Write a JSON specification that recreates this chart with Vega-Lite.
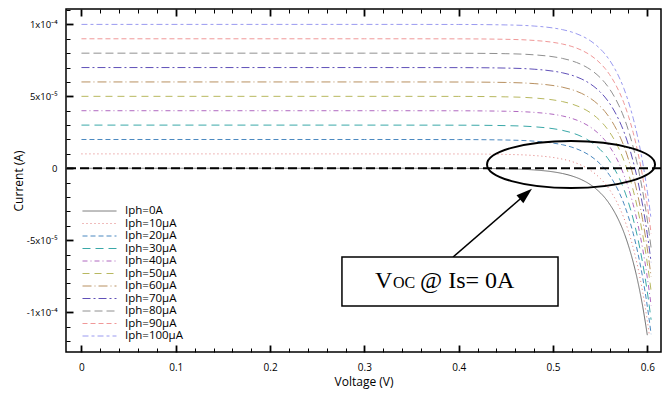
{
  "$schema": "https://vega.github.io/schema/vega-lite/v6.json",
  "autosize": {"type": "none"},
  "padding": {"left": 66, "top": 9, "right": 9, "bottom": 46},
  "width": 595,
  "height": 343,
  "background": "white",
  "config": {
    "view": {"stroke": "#000", "strokeWidth": 1.5},
    "axis": {"grid": false, "domain": false, "ticks": true, "zindex": 1, "labelFont": "Open Sans", "titleFont": "Open Sans", "labelColor": "#000", "titleColor": "#000", "tickColor": "#000", "titleFontWeight": "normal"}
  },
  "datasets": {
    "iv": [
      {"k":0,"v":0,"i":0},{"k":0,"v":0.3,"i":0},{"k":0,"v":0.4,"i":-0.05},{"k":0,"v":0.45,"i":-0.36},{"k":0,"v":0.48,"i":-1.15},{"k":0,"v":0.5,"i":-2.48},{"k":0,"v":0.51,"i":-3.64},{"k":0,"v":0.52,"i":-5.35},{"k":0,"v":0.53,"i":-7.86},{"k":0,"v":0.54,"i":-11.55},{"k":0,"v":0.55,"i":-16.96},{"k":0,"v":0.555,"i":-20.5},{"k":0,"v":0.56,"i":-24.9},{"k":0,"v":0.565,"i":-30.2},{"k":0,"v":0.57,"i":-36.6},{"k":0,"v":0.575,"i":-44.3},{"k":0,"v":0.58,"i":-53.8},{"k":0,"v":0.585,"i":-65.2},{"k":0,"v":0.59,"i":-79},{"k":0,"v":0.595,"i":-95.7},{"k":0,"v":0.6,"i":-116},
      {"k":10,"v":0,"i":10},{"k":10,"v":0.3,"i":10},{"k":10,"v":0.4,"i":9.95},{"k":10,"v":0.45,"i":9.64},{"k":10,"v":0.48,"i":8.85},{"k":10,"v":0.5,"i":7.52},{"k":10,"v":0.51,"i":6.36},{"k":10,"v":0.52,"i":4.65},{"k":10,"v":0.53,"i":2.14},{"k":10,"v":0.54,"i":-1.55},{"k":10,"v":0.55,"i":-6.96},{"k":10,"v":0.555,"i":-10.5},{"k":10,"v":0.56,"i":-14.9},{"k":10,"v":0.565,"i":-20.2},{"k":10,"v":0.57,"i":-26.6},{"k":10,"v":0.575,"i":-34.3},{"k":10,"v":0.58,"i":-43.8},{"k":10,"v":0.585,"i":-55.2},{"k":10,"v":0.59,"i":-69},{"k":10,"v":0.595,"i":-85.7},{"k":10,"v":0.6,"i":-106},{"k":10,"v":0.602,"i":-115.3},
      {"k":20,"v":0,"i":20},{"k":20,"v":0.3,"i":20},{"k":20,"v":0.4,"i":19.95},{"k":20,"v":0.45,"i":19.64},{"k":20,"v":0.48,"i":18.85},{"k":20,"v":0.5,"i":17.52},{"k":20,"v":0.51,"i":16.36},{"k":20,"v":0.52,"i":14.65},{"k":20,"v":0.53,"i":12.14},{"k":20,"v":0.54,"i":8.45},{"k":20,"v":0.55,"i":3.04},{"k":20,"v":0.555,"i":-0.5},{"k":20,"v":0.56,"i":-4.9},{"k":20,"v":0.565,"i":-10.2},{"k":20,"v":0.57,"i":-16.6},{"k":20,"v":0.575,"i":-24.3},{"k":20,"v":0.58,"i":-33.8},{"k":20,"v":0.585,"i":-45.2},{"k":20,"v":0.59,"i":-59},{"k":20,"v":0.595,"i":-75.7},{"k":20,"v":0.6,"i":-96},{"k":20,"v":0.602,"i":-105.3},{"k":20,"v":0.604,"i":-115.3},
      {"k":30,"v":0,"i":30},{"k":30,"v":0.3,"i":30},{"k":30,"v":0.4,"i":29.95},{"k":30,"v":0.45,"i":29.64},{"k":30,"v":0.48,"i":28.85},{"k":30,"v":0.5,"i":27.52},{"k":30,"v":0.51,"i":26.36},{"k":30,"v":0.52,"i":24.65},{"k":30,"v":0.53,"i":22.14},{"k":30,"v":0.54,"i":18.45},{"k":30,"v":0.55,"i":13.04},{"k":30,"v":0.555,"i":9.5},{"k":30,"v":0.56,"i":5.1},{"k":30,"v":0.565,"i":-0.2},{"k":30,"v":0.57,"i":-6.6},{"k":30,"v":0.575,"i":-14.3},{"k":30,"v":0.58,"i":-23.8},{"k":30,"v":0.585,"i":-35.2},{"k":30,"v":0.59,"i":-49},{"k":30,"v":0.595,"i":-65.7},{"k":30,"v":0.6,"i":-86},{"k":30,"v":0.602,"i":-95.3},{"k":30,"v":0.604,"i":-105.3},
      {"k":40,"v":0,"i":40},{"k":40,"v":0.3,"i":40},{"k":40,"v":0.4,"i":39.95},{"k":40,"v":0.45,"i":39.64},{"k":40,"v":0.48,"i":38.85},{"k":40,"v":0.5,"i":37.52},{"k":40,"v":0.51,"i":36.36},{"k":40,"v":0.52,"i":34.65},{"k":40,"v":0.53,"i":32.14},{"k":40,"v":0.54,"i":28.45},{"k":40,"v":0.55,"i":23.04},{"k":40,"v":0.555,"i":19.5},{"k":40,"v":0.56,"i":15.1},{"k":40,"v":0.565,"i":9.8},{"k":40,"v":0.57,"i":3.4},{"k":40,"v":0.575,"i":-4.3},{"k":40,"v":0.58,"i":-13.8},{"k":40,"v":0.585,"i":-25.2},{"k":40,"v":0.59,"i":-39},{"k":40,"v":0.595,"i":-55.7},{"k":40,"v":0.6,"i":-76},{"k":40,"v":0.602,"i":-85.3},{"k":40,"v":0.604,"i":-95.3},
      {"k":50,"v":0,"i":50},{"k":50,"v":0.3,"i":50},{"k":50,"v":0.4,"i":49.95},{"k":50,"v":0.45,"i":49.64},{"k":50,"v":0.48,"i":48.85},{"k":50,"v":0.5,"i":47.52},{"k":50,"v":0.51,"i":46.36},{"k":50,"v":0.52,"i":44.65},{"k":50,"v":0.53,"i":42.14},{"k":50,"v":0.54,"i":38.45},{"k":50,"v":0.55,"i":33.04},{"k":50,"v":0.555,"i":29.5},{"k":50,"v":0.56,"i":25.1},{"k":50,"v":0.565,"i":19.8},{"k":50,"v":0.57,"i":13.4},{"k":50,"v":0.575,"i":5.7},{"k":50,"v":0.58,"i":-3.8},{"k":50,"v":0.585,"i":-15.2},{"k":50,"v":0.59,"i":-29},{"k":50,"v":0.595,"i":-45.7},{"k":50,"v":0.6,"i":-66},{"k":50,"v":0.602,"i":-75.3},{"k":50,"v":0.604,"i":-85.3},
      {"k":60,"v":0,"i":60},{"k":60,"v":0.3,"i":60},{"k":60,"v":0.4,"i":59.95},{"k":60,"v":0.45,"i":59.64},{"k":60,"v":0.48,"i":58.85},{"k":60,"v":0.5,"i":57.52},{"k":60,"v":0.51,"i":56.36},{"k":60,"v":0.52,"i":54.65},{"k":60,"v":0.53,"i":52.14},{"k":60,"v":0.54,"i":48.45},{"k":60,"v":0.55,"i":43.04},{"k":60,"v":0.555,"i":39.5},{"k":60,"v":0.56,"i":35.1},{"k":60,"v":0.565,"i":29.8},{"k":60,"v":0.57,"i":23.4},{"k":60,"v":0.575,"i":15.7},{"k":60,"v":0.58,"i":6.2},{"k":60,"v":0.585,"i":-5.2},{"k":60,"v":0.59,"i":-19},{"k":60,"v":0.595,"i":-35.7},{"k":60,"v":0.6,"i":-56},{"k":60,"v":0.602,"i":-65.3},{"k":60,"v":0.604,"i":-75.3},
      {"k":70,"v":0,"i":70},{"k":70,"v":0.3,"i":70},{"k":70,"v":0.4,"i":69.95},{"k":70,"v":0.45,"i":69.64},{"k":70,"v":0.48,"i":68.85},{"k":70,"v":0.5,"i":67.52},{"k":70,"v":0.51,"i":66.36},{"k":70,"v":0.52,"i":64.65},{"k":70,"v":0.53,"i":62.14},{"k":70,"v":0.54,"i":58.45},{"k":70,"v":0.55,"i":53.04},{"k":70,"v":0.555,"i":49.5},{"k":70,"v":0.56,"i":45.1},{"k":70,"v":0.565,"i":39.8},{"k":70,"v":0.57,"i":33.4},{"k":70,"v":0.575,"i":25.7},{"k":70,"v":0.58,"i":16.2},{"k":70,"v":0.585,"i":4.8},{"k":70,"v":0.59,"i":-9},{"k":70,"v":0.595,"i":-25.7},{"k":70,"v":0.6,"i":-46},{"k":70,"v":0.602,"i":-55.3},{"k":70,"v":0.604,"i":-65.3},
      {"k":80,"v":0,"i":80},{"k":80,"v":0.3,"i":80},{"k":80,"v":0.4,"i":79.95},{"k":80,"v":0.45,"i":79.64},{"k":80,"v":0.48,"i":78.85},{"k":80,"v":0.5,"i":77.52},{"k":80,"v":0.51,"i":76.36},{"k":80,"v":0.52,"i":74.65},{"k":80,"v":0.53,"i":72.14},{"k":80,"v":0.54,"i":68.45},{"k":80,"v":0.55,"i":63.04},{"k":80,"v":0.555,"i":59.5},{"k":80,"v":0.56,"i":55.1},{"k":80,"v":0.565,"i":49.8},{"k":80,"v":0.57,"i":43.4},{"k":80,"v":0.575,"i":35.7},{"k":80,"v":0.58,"i":26.2},{"k":80,"v":0.585,"i":14.8},{"k":80,"v":0.59,"i":1},{"k":80,"v":0.595,"i":-15.7},{"k":80,"v":0.6,"i":-36},{"k":80,"v":0.602,"i":-45.3},{"k":80,"v":0.604,"i":-55.3},
      {"k":90,"v":0,"i":90},{"k":90,"v":0.3,"i":90},{"k":90,"v":0.4,"i":89.95},{"k":90,"v":0.45,"i":89.64},{"k":90,"v":0.48,"i":88.85},{"k":90,"v":0.5,"i":87.52},{"k":90,"v":0.51,"i":86.36},{"k":90,"v":0.52,"i":84.65},{"k":90,"v":0.53,"i":82.14},{"k":90,"v":0.54,"i":78.45},{"k":90,"v":0.55,"i":73.04},{"k":90,"v":0.555,"i":69.5},{"k":90,"v":0.56,"i":65.1},{"k":90,"v":0.565,"i":59.8},{"k":90,"v":0.57,"i":53.4},{"k":90,"v":0.575,"i":45.7},{"k":90,"v":0.58,"i":36.2},{"k":90,"v":0.585,"i":24.8},{"k":90,"v":0.59,"i":11},{"k":90,"v":0.595,"i":-5.7},{"k":90,"v":0.6,"i":-26},{"k":90,"v":0.602,"i":-35.3},{"k":90,"v":0.604,"i":-45.3},
      {"k":100,"v":0,"i":100},{"k":100,"v":0.3,"i":100},{"k":100,"v":0.4,"i":99.95},{"k":100,"v":0.45,"i":99.64},{"k":100,"v":0.48,"i":98.85},{"k":100,"v":0.5,"i":97.52},{"k":100,"v":0.51,"i":96.36},{"k":100,"v":0.52,"i":94.65},{"k":100,"v":0.53,"i":92.14},{"k":100,"v":0.54,"i":88.45},{"k":100,"v":0.55,"i":83.04},{"k":100,"v":0.555,"i":79.5},{"k":100,"v":0.56,"i":75.1},{"k":100,"v":0.565,"i":69.8},{"k":100,"v":0.57,"i":63.4},{"k":100,"v":0.575,"i":55.7},{"k":100,"v":0.58,"i":46.2},{"k":100,"v":0.585,"i":34.8},{"k":100,"v":0.59,"i":21},{"k":100,"v":0.595,"i":4.3},{"k":100,"v":0.6,"i":-16},{"k":100,"v":0.602,"i":-25.3},{"k":100,"v":0.604,"i":-35.3}
    ]
  },
  "resolve": {"axis": {"x": "independent", "y": "independent"}},
  "layer": [
    {
      "data": {"name": "iv"},
      "mark": {"type": "line", "strokeWidth": 1, "interpolate": "monotone", "clip": true},
      "encoding": {
        "x": {"field": "v", "type": "quantitative",
          "scale": {"domain": [-0.0164, 0.6145], "nice": false, "zero": false},
          "axis": {"orient": "bottom", "values": [0,0.1,0.2,0.3,0.4,0.5,0.6],
            "labelExpr": "toString(round(datum.value*10)/10)",
            "offset": -7, "tickSize": 7, "tickWidth": 1.8,
            "labelPadding": 10, "labelFontSize": 10, "labelFlush": false,
            "title": "Voltage (V)", "titleFontSize": 12, "titlePadding": 4}},
        "y": {"field": "i", "type": "quantitative",
          "scale": {"domain": [-127.7, 110.7], "nice": false, "zero": false},
          "axis": {"orient": "left", "values": [-100,-50,0,50,100],
            "labelExpr": "datum.value == 100 ? '1x10⁻⁴' : datum.value == 50 ? '5x10⁻⁵' : datum.value == 0 ? '0' : datum.value == -50 ? '-5x10⁻⁵' : '-1x10⁻⁴'",
            "offset": -7, "tickSize": 7, "tickWidth": 1.8,
            "labelPadding": 9, "labelFontSize": 9.5, "labelFlush": false,
            "title": "Current (A)", "titleFontSize": 12, "titlePadding": 1}},
        "color": {"field": "k", "type": "ordinal",
          "scale": {"domain": [0,10,20,30,40,50,60,70,80,90,100],
            "range": ["#6e6e6e","#e07878","#4a88c0","#3aa8a8","#b068c0","#b8b860","#b89060","#6050b8","#909090","#f09898","#9a9af0"]},
          "legend": {"orient": "none", "legendX": 27.5, "legendY": 196, "title": null, "padding": 0,
            "symbolType": "M-3.09,0L3.09,0", "symbolSize": 121, "symbolStrokeWidth": 1,
            "labelOffset": 19.5, "labelFont": "Open Sans", "labelFontSize": 11.5, "labelColor": "#000",
            "rowPadding": 0.5,
            "labelExpr": "datum.value == 0 ? 'Iph=0A' : 'Iph=' + datum.value + 'µA'"}},
        "strokeDash": {"field": "k", "type": "ordinal",
          "scale": {"domain": [0,10,20,30,40,50,60,70,80,90,100],
            "range": [[1,0],[1,3],[5,3],[8,5],[5,3,1,3],[7,5],[9,3,1,3],[8,3,2,3],[8,4],[5,3],[6,3,3,3]]},
          "legend": {"orient": "none", "legendX": 27.5, "legendY": 196, "title": null, "padding": 0,
            "symbolType": "M-3.09,0L3.09,0", "symbolSize": 121, "symbolStrokeWidth": 1,
            "labelOffset": 19.5, "labelFont": "Open Sans", "labelFontSize": 11.5, "labelColor": "#000",
            "rowPadding": 0.5,
            "labelExpr": "datum.value == 0 ? 'Iph=0A' : 'Iph=' + datum.value + 'µA'"}}
      }
    },
    {
      "data": {"values": [{}]},
      "mark": {"type": "rule", "color": "#000", "strokeWidth": 2, "strokeDash": [9, 4]},
      "encoding": {"y": {"datum": 0, "type": "quantitative", "axis": null}}
    },
    {
      "data": {"values": [{}]},
      "mark": {"type": "point", "shape": "M-1,0A1,0.28,0,1,0,1,0A1,0.28,0,1,0,-1,0Z", "size": 28224, "filled": false, "stroke": "#000", "strokeWidth": 2, "opacity": 1},
      "encoding": {
        "x": {"datum": 0.5191, "type": "quantitative",
          "axis": {"orient": "top", "values": [0,0.1,0.2,0.3,0.4,0.5,0.6], "labels": false, "title": null, "offset": -7, "tickSize": 7, "tickWidth": 1.8}},
        "y": {"datum": 2.64, "type": "quantitative", "axis": null}
      }
    },
    {
      "data": {"values": [{}]},
      "mark": {"type": "rule", "color": "#000", "strokeWidth": 1.5},
      "encoding": {
        "x": {"datum": 0.394, "type": "quantitative",
          "axis": {"orient": "bottom", "values": [0.02,0.04,0.06,0.08,0.12,0.14,0.16,0.18,0.22,0.24,0.26,0.28,0.32,0.34,0.36,0.38,0.42,0.44,0.46,0.48,0.52,0.54,0.56,0.58], "labels": false, "title": null, "offset": -4, "tickSize": 4, "tickWidth": 1}},
        "y": {"datum": -61.7, "type": "quantitative", "axis": null},
        "x2": {"datum": 0.4713},
        "y2": {"datum": -17.9}
      }
    },
    {
      "data": {"values": [{}]},
      "mark": {"type": "point", "shape": "M0,-1L0.65,1L-0.65,1Z", "size": 256, "filled": true, "color": "#000", "opacity": 1, "angle": 49},
      "encoding": {
        "x": {"datum": 0.4713, "type": "quantitative",
          "axis": {"orient": "top", "values": [0.02,0.04,0.06,0.08,0.12,0.14,0.16,0.18,0.22,0.24,0.26,0.28,0.32,0.34,0.36,0.38,0.42,0.44,0.46,0.48,0.52,0.54,0.56,0.58], "labels": false, "title": null, "offset": -4, "tickSize": 4, "tickWidth": 1}},
        "y": {"datum": -17.9, "type": "quantitative", "axis": null}
      }
    },
    {
      "data": {"values": [{}]},
      "mark": {"type": "rect", "fill": "#fff", "stroke": "#000", "strokeWidth": 1.5},
      "encoding": {
        "x": {"datum": 0.2762, "type": "quantitative", "axis": null},
        "x2": {"datum": 0.5053},
        "y": {"datum": -61.7, "type": "quantitative",
          "axis": {"orient": "left", "values": [-120,-110,-90,-80,-70,-60,-40,-30,-20,-10,10,20,30,40,60,70,80,90,110], "labels": false, "title": null, "offset": -4, "tickSize": 4, "tickWidth": 1}},
        "y2": {"datum": -95.8}
      }
    },
    {
      "data": {"values": [{}]},
      "mark": {"type": "text", "text": "V", "font": "Liberation Serif", "fontSize": 24, "align": "left", "baseline": "alphabetic", "color": "#000"},
      "encoding": {
        "x": {"datum": 0.3112, "type": "quantitative", "axis": null},
        "y": {"datum": -83.2, "type": "quantitative", "axis": null}
      }
    },
    {
      "data": {"values": [{}]},
      "mark": {"type": "text", "text": "OC", "font": "Liberation Serif", "fontSize": 16, "align": "left", "baseline": "alphabetic", "color": "#000"},
      "encoding": {
        "x": {"datum": 0.3303, "type": "quantitative", "axis": null},
        "y": {"datum": -83.2, "type": "quantitative", "axis": null}
      }
    },
    {
      "data": {"values": [{}]},
      "mark": {"type": "text", "text": "@ Is= 0A", "font": "Liberation Serif", "fontSize": 24, "align": "left", "baseline": "alphabetic", "color": "#000"},
      "encoding": {
        "x": {"datum": 0.359, "type": "quantitative", "axis": null},
        "y": {"datum": -83.2, "type": "quantitative", "axis": null}
      }
    }
  ]
}
